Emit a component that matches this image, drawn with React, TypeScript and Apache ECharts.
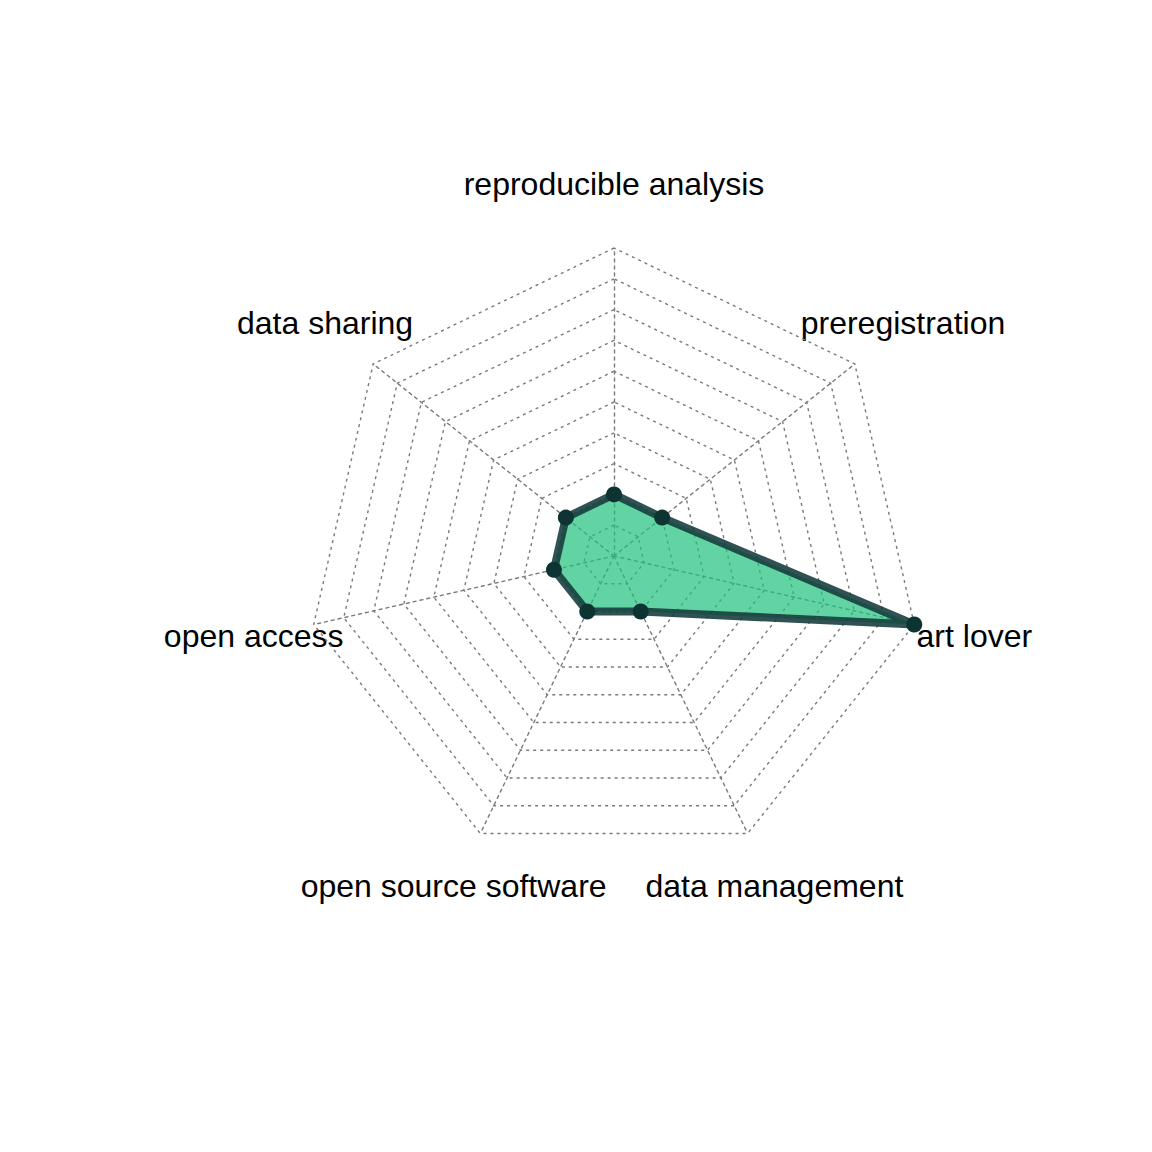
import React, { useEffect, useRef } from "react";
import * as echarts from "echarts";

// Indicators listed counter-clockwise from the top (ECharts radar order)
const indicators = [
  "reproducible analysis",
  "data sharing",
  "open access",
  "open source software",
  "data management",
  "art lover",
  "preregistration",
];
const values = [0.2, 0.2, 0.2, 0.2, 0.2, 1.0, 0.2];
const axisMin = 0;
const axisMax = 1;
const levels = 10;

const CX = 614;
const CY = 556;
const R = 308;

export default function App() {
  const ref = useRef<HTMLDivElement>(null);
  useEffect(() => {
    document.body.style.margin = "0";
    const chart = echarts.init(ref.current!, undefined, { renderer: "svg" });
    const n = indicators.length;
    const labels = indicators.map((name, i) => {
      const ang = Math.PI / 2 + (2 * Math.PI * i) / n;
      return {
        type: "text",
        x: CX + 1.2 * R * Math.cos(ang),
        y: CY - 1.2 * R * Math.sin(ang) - 2.5,
        style: {
          text: name,
          fontSize: 32,
          fontFamily: "Liberation Sans, Arial, sans-serif",
          fill: "#000",
          align: "center",
          verticalAlign: "middle",
        },
      };
    });
    chart.setOption({
      animation: false,
      backgroundColor: "#fff",
      radar: {
        center: [CX, CY],
        radius: R,
        startAngle: 90,
        shape: "polygon",
        splitNumber: levels,
        indicator: indicators.map((name) => ({ name, min: axisMin, max: axisMax })),
        axisName: { show: false },
        splitArea: { show: false },
        splitLine: { lineStyle: { color: "#7a7a7a", type: [3, 4], width: 1.4 } },
        axisLine: { lineStyle: { color: "#7a7a7a", type: [3, 4], width: 1.4 } },
        axisTick: { show: false },
        axisLabel: { show: false },
      },
      graphic: labels,
      series: [
        {
          type: "radar",
          z: 2,
          symbol: "none",
          lineStyle: { width: 0, opacity: 0 },
          areaStyle: { color: "rgb(31,194,125)", opacity: 0.7 },
          data: [{ value: values }],
        },
        {
          type: "radar",
          z: 3,
          symbol: "circle",
          symbolSize: 16,
          itemStyle: { color: "#0d3333", opacity: 1 },
          lineStyle: { color: "#143a3a", width: 8, opacity: 0.88 },
          data: [{ value: values }],
        },
      ],
    });
    return () => chart.dispose();
  }, []);
  return <div ref={ref} style={{ width: 1152, height: 1152 }} />;
}
